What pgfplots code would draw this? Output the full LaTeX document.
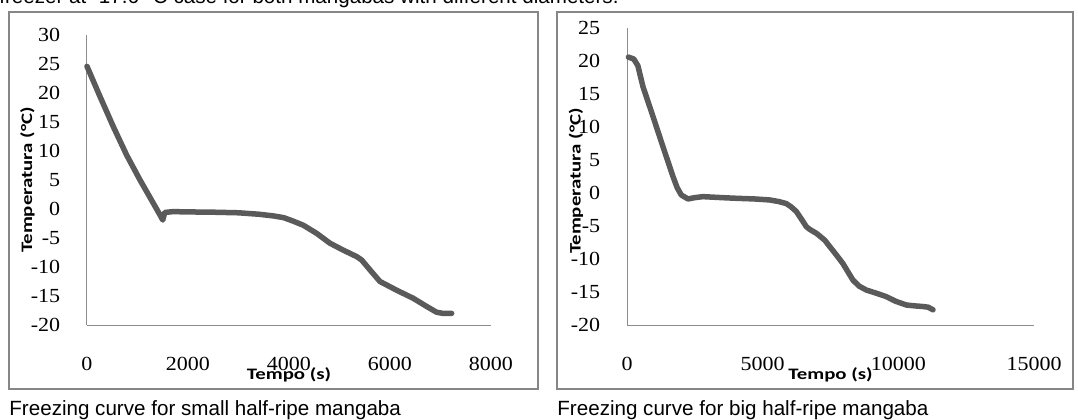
\documentclass[border=0pt]{standalone}
\usepackage{fontspec}
\usepackage{graphicx}
\usepackage{pgfplots}
\pgfplotsset{compat=1.18}
\setmainfont{Liberation Serif}
\newfontfamily\arial{Liberation Sans}
\newfontfamily\calibri{Carlito}
\definecolor{curve}{HTML}{5A5A5A}
\definecolor{frame}{HTML}{868686}
\definecolor{axgray}{HTML}{8C8C8C}

\pgfplotsset{
  excel/.style={
    scale only axis,
    axis x line=bottom, axis y line=left,
    axis line style={draw=axgray, line width=0.5pt, -},
    major tick length=0pt,
    tick style={draw=none},
    scaled ticks=false,
    /pgf/number format/1000 sep={},
    /pgf/number format/assume math mode=true,
    ticklabel style={font=\fontsize{10}{12}\selectfont, inner sep=0pt, xscale=1.1},
    yticklabel style={anchor=east, xshift=-12pt},
    xticklabel style={anchor=north, yshift=-16pt},
    label style={font=\calibri\fontsize{8}{10}\selectfont\bfseries},
    xlabel style={at={(axis description cs:0.5,0)}, anchor=center, yshift=-25pt},
    xlabel={\scalebox{1.3}[1]{Tempo (s)}},
    ylabel={\scalebox{1.3}[1]{Temperatura (°C)}},
    clip=false,
  },
}

\begin{document}
\begin{tikzpicture}
\useasboundingbox (0,0) rectangle (539pt,-209.5pt);

% clipped line of text above the figure
\begin{scope}
\clip (0,0) rectangle (539pt,-209.5pt);
\node[anchor=base east, inner sep=0pt, font=\arial\fontsize{10.3}{12}\selectfont]
  at (309.5pt,-1.75pt) {freezer at -17.6 °C case for both mangabas with different diameters.};
\end{scope}

% chart frames
\draw[frame, line width=1pt] (4.5pt,-6pt) rectangle (269pt,-194.5pt);
\draw[frame, line width=1pt] (278.5pt,-6pt) rectangle (536.5pt,-194.5pt);

% small mangaba
\begin{axis}[excel,
  at={(43.5pt,-162.5pt)}, anchor=south west,
  width=202pt, height=145pt,
  xmin=0, xmax=8000, ymin=-20, ymax=30,
  xtick={0,2000,4000,6000,8000},
  ytick={-20,-15,-10,-5,0,5,10,15,20,25,30},
  ylabel style={at={(axis description cs:-0.1473,0.5)}, anchor=center},
]
\addplot[curve, line width=2.75pt, line join=round, line cap=round] table {
t T
0 24.6
257 19.4
521 14.2
785 9.3
1050 5.0
1313 1.0
1470 -1.4
1500 -1.9
1540 -0.6
1700 -0.45
2000 -0.5
2500 -0.55
3000 -0.65
3400 -0.9
3700 -1.2
3900 -1.5
4086 -2.1
4284 -2.8
4548 -4.2
4812 -5.9
5076 -7.1
5340 -8.2
5440 -8.8
5604 -10.5
5802 -12.5
6132 -14.0
6462 -15.4
6726 -16.8
6924 -17.8
7050 -18.0
7221 -18.0
};
\end{axis}

% big mangaba
\begin{axis}[excel,
  at={(313.5pt,-162.5pt)}, anchor=south west,
  width=203.5pt, height=148.5pt,
  xmin=0, xmax=15000, ymin=-20, ymax=25,
  xtick={0,5000,10000,15000},
  ytick={-20,-15,-10,-5,0,5,10,15,20,25},
  ylabel style={at={(axis description cs:-0.1253,0.485)}, anchor=center},
]
\addplot[curve, line width=2.75pt, line join=round, line cap=round] table {
t T
50 20.6
250 20.3
400 19.3
590 16.1
958 11.6
1327 7.0
1695 2.5
1850 0.8
2000 -0.3
2248 -0.9
2500 -0.7
2801 -0.55
3500 -0.7
4030 -0.8
4700 -0.9
5257 -1.05
5600 -1.3
5871 -1.6
6050 -2.1
6240 -2.8
6420 -3.9
6608 -5.1
6731 -5.5
6977 -6.1
7100 -6.5
7300 -7.2
7468 -8.1
7700 -9.3
7960 -10.7
8150 -12.0
8329 -13.2
8550 -14.1
8820 -14.7
9200 -15.2
9558 -15.7
9900 -16.4
10295 -16.97
10600 -17.1
10909 -17.2
11100 -17.3
11278 -17.7
};
\end{axis}

% captions
\node[anchor=base west, inner sep=0pt, font=\arial\fontsize{10.3}{12}\selectfont]
  at (4.5pt,-207.5pt) {Freezing curve for small half-ripe mangaba};
\node[anchor=base west, inner sep=0pt, font=\arial\fontsize{10.3}{12}\selectfont]
  at (278.5pt,-207.5pt) {Freezing curve for big half-ripe mangaba};
\end{tikzpicture}
\end{document}
